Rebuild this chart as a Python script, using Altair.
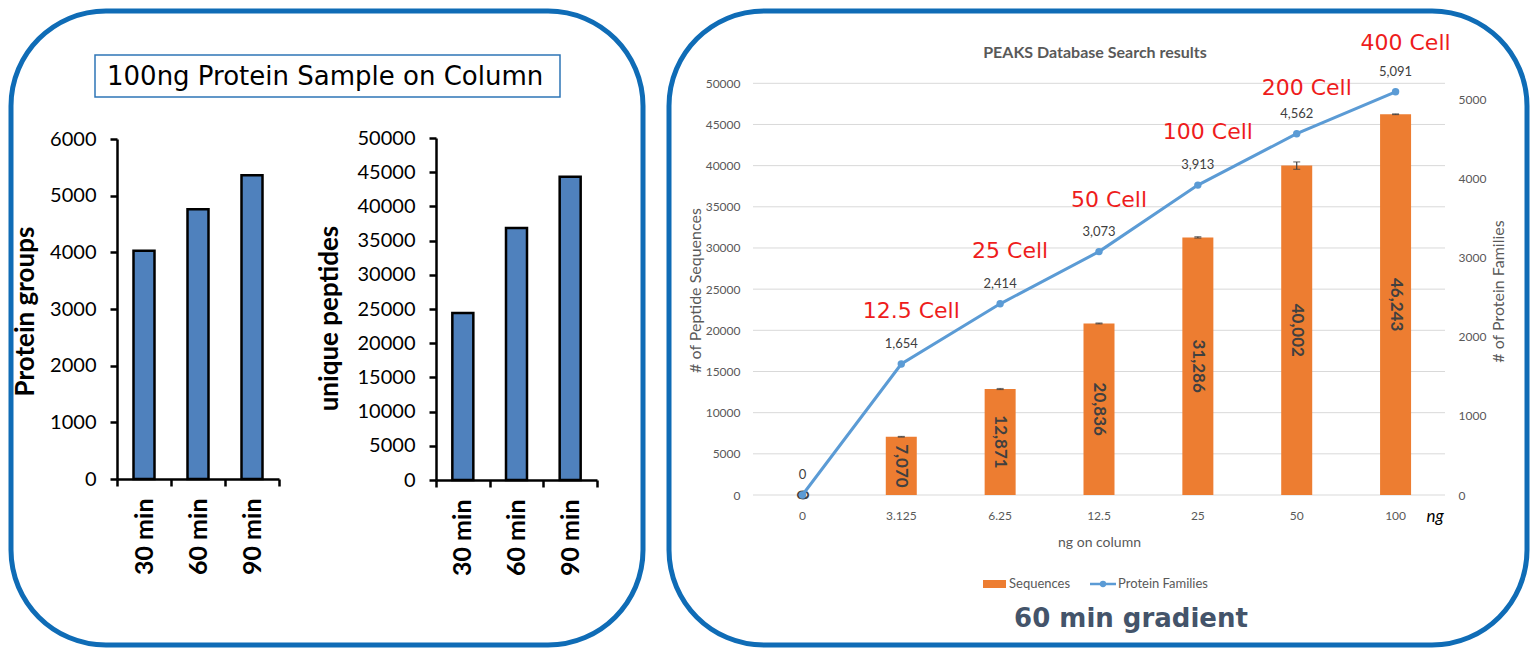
import altair as alt
import pandas as pd

# ---------------- data ----------------
run_time = ["30 min", "60 min", "90 min"]
protein_groups = [4030, 4760, 5360]
unique_peptides = [24400, 36850, 44350]
groups_ticks = [0, 1000, 2000, 3000, 4000, 5000, 6000]
peptide_ticks = [0, 5000, 10000, 15000, 20000, 25000, 30000, 35000, 40000, 45000, 50000]

ng_on_column = ["0", "3.125", "6.25", "12.5", "25", "50", "100"]
sequences = [0, 7070, 12871, 20836, 31286, 40002, 46243]
sequence_err = [0, 40, 60, 50, 80, 450, 40]
protein_families = [0, 1654, 2414, 3073, 3913, 4562, 5091]
cell_labels = ["", "12.5 Cell", "25 Cell", "50 Cell", "100 Cell", "200 Cell", "400 Cell"]
cell_label_level = [0, 2323, 3085, 3725, 4587, 5139, 5711]
sequence_ticks = peptide_ticks
family_ticks = [0, 1000, 2000, 3000, 4000, 5000]

W, H = 1522, 640
BOX = "#0f6cb6"
GRAY = "#595959"

one = alt.Data(values=[{"a": 1}])


def deco_rect(x1, x2, y1, y2, **kw):
    return alt.Chart(one).mark_rect(**kw).encode(
        x=alt.value(x1), x2=alt.value(x2), y=alt.value(y1), y2=alt.value(y2))


def deco_text(txt, x, y, **kw):
    return alt.Chart(one).mark_text(text=txt, baseline="middle", **kw).encode(
        x=alt.value(x), y=alt.value(y))


# ---------------- panel boxes ----------------
box_left = deco_rect(3, 635, 3, 637, fill="white", fillOpacity=0, stroke=BOX, strokeWidth=5,
                     cornerRadius=95)
box_right = deco_rect(661, 1519, 3, 637, fill="white", fillOpacity=0, stroke=BOX, strokeWidth=5,
                      cornerRadius=95)

# ---------------- left panel ----------------
BLACK_AXIS = dict(domainColor="black", domainWidth=2.5, tickColor="black", tickWidth=2.5,
                  tickSize=7, labelColor="black", labelFont="Lato", titleFont="Lato",
                  titleColor="black", grid=False, zindex=1)


def left_bar(df, xf, yf, x_rng, y_rng, dom, ticks, title, tx, ty):
    return alt.Chart(df).mark_bar(width=21, color="#4f81bd", stroke="black", strokeWidth=2.5).encode(
        x=alt.X(f"{xf}:N", sort=run_time,
                scale=alt.Scale(domain=run_time, range=x_rng, paddingInner=0, paddingOuter=0),
                axis=alt.Axis(orient="bottom", offset=y_rng[0] - H, title=None, labelAngle=270,
                              labelAlign="right", labelBaseline="middle", labelFontSize=25,
                              labelFontWeight="bold", labelPadding=12, tickBand="extent",
                              **BLACK_AXIS)),
        y=alt.Y(f"{yf}:Q", scale=alt.Scale(domain=dom, range=y_rng, nice=False),
                axis=alt.Axis(orient="left", offset=-x_rng[0], values=ticks, format="d",
                              title=title, titleFontSize=26, titleFontWeight="bold",
                              titleAngle=270, titleX=tx, titleY=ty, titleAlign="center",
                              titleBaseline="middle", labelFontSize=20, labelPadding=14,
                              **BLACK_AXIS)),
    )


df1 = pd.DataFrame({"run": run_time, "groups": protein_groups})
df2 = pd.DataFrame({"run2": run_time, "peptides": unique_peptides})

bar1 = left_bar(df1, "run", "groups", [109, 271], [471, 131], [0, 6000], groups_ticks,
                "Protein groups", -92, 303)
bar2 = left_bar(df2, "run2", "peptides", [428, 589], [472, 130], [0, 50000], peptide_ticks,
                "unique peptides", -107, 310)

title_box = deco_rect(87, 552, 47, 89, fill="white", fillOpacity=0, stroke="#2e75b6",
                      strokeWidth=1.5)
title_txt = deco_text("100ng Protein Sample on Column", 99, 69, align="left",
                      font="DejaVu Sans", fontSize=26, color="black")

# ---------------- right panel ----------------
df_r = pd.DataFrame({"ng": ng_on_column, "seq": sequences, "err": sequence_err,
                     "fam": protein_families, "cell": cell_labels, "cell_y": cell_label_level})
base = alt.Chart(df_r)

X0, X1 = 745, 1437
x_scale = alt.Scale(domain=ng_on_column, range=[X0, X1], paddingInner=0, paddingOuter=0)
x_axis = alt.Axis(orient="bottom", offset=487 - H, title="ng on column", domain=False,
                  ticks=False, tickSize=0, labelFont="Lato", labelFontSize=12,
                  labelColor=GRAY, labelPadding=15, labelAngle=0, titleFont="Lato",
                  titleFontSize=14, titleFontWeight="normal", titleColor=GRAY,
                  titleX=(X0 + X1) / 2, titleY=47, titleAlign="center", titleBaseline="middle",
                  grid=False, zindex=1)


def x_enc(axis=None):
    return alt.X("ng:N", sort=ng_on_column, scale=x_scale, axis=axis)


def y_seq(field, axis=None):
    return alt.Y(field, type="quantitative",
                 scale=alt.Scale(domain=[0, 50000], range=[487, 75.3], nice=False), axis=axis)


def y_fam(field, axis=None):
    return alt.Y(field, type="quantitative",
                 scale=alt.Scale(domain=[0, 5000], range=[487, 91], nice=False), axis=axis)


seq_axis = alt.Axis(orient="left", offset=-X0, values=sequence_ticks, format="d", domain=False,
                    ticks=False, tickSize=0, grid=False, labelFont="Lato", labelFontSize=12,
                    labelColor=GRAY, labelPadding=13, title="# of Peptide Sequences",
                    titleFont="Lato", titleFontSize=16, titleFontWeight="normal",
                    titleColor=GRAY, titleAngle=270, titleX=-58, titleY=282,
                    titleAlign="center", titleBaseline="middle", zindex=1)
fam_axis = alt.Axis(orient="right", offset=X1 - W, values=family_ticks, format="d", domain=False,
                    ticks=False, tickSize=0, grid=False, labelFont="Lato", labelFontSize=12,
                    labelColor=GRAY, labelPadding=13, title="# of Protein Families",
                    titleFont="Lato", titleFontSize=16, titleFontWeight="normal",
                    titleColor=GRAY, titleAngle=270, titleX=53, titleY=283,
                    titleAlign="center", titleBaseline="middle", zindex=1)

grid = alt.Chart(pd.DataFrame({"g": sequence_ticks})).mark_rule(
    color="#d9d9d9", strokeWidth=1).encode(y=y_seq("g"), x=alt.value(X0), x2=alt.value(X1))

bars = base.mark_bar(width=31, color="#ed7d31").encode(x=x_enc(x_axis), y=y_seq("seq", seq_axis))

err_base = base.transform_filter("datum.err > 0").transform_calculate(
    lo="datum.seq - datum.err", hi="datum.seq + datum.err")
err_rule = err_base.mark_rule(color="#404040", strokeWidth=1.2).encode(
    x=x_enc(), y=y_seq("lo"), y2=alt.Y2("hi"))
err_lo = err_base.mark_tick(color="#404040", thickness=1.2, size=7).encode(x=x_enc(), y=y_seq("lo"))
err_hi = err_base.mark_tick(color="#404040", thickness=1.2, size=7).encode(x=x_enc(), y=y_seq("hi"))

bar_lbl = base.transform_calculate(half="datum.seq / 2").mark_text(
    angle=90, font="Lato", fontSize=17, fontWeight="bold", color="#404040",
    align="center", baseline="middle").encode(
    x=x_enc(), y=y_seq("half"), text=alt.Text("seq:Q", format=","))

line = base.mark_line(color="#5b9bd5", strokeWidth=3,
                      point=alt.OverlayMarkDef(filled=True, size=55, color="#5b9bd5")).encode(
    x=x_enc(), y=y_fam("fam", fam_axis))

line_lbl = base.mark_text(dy=-20, font="Lato", fontSize=13, color="#404040").encode(
    x=x_enc(), y=y_fam("fam"), text=alt.Text("fam:Q", format=","))

cells = base.transform_filter("datum.cell != ''").mark_text(
    dx=10, font="DejaVu Sans", fontSize=22, color="#ee1c1c", baseline="middle").encode(
    x=x_enc(), y=y_fam("cell_y"), text="cell:N")

r_title = deco_text("PEAKS Database Search results", 1087, 45, font="Lato", fontSize=16,
                    fontWeight="bold", color=GRAY, align="center")
ng_unit = deco_text("ng", 1427, 509, font="Lato", fontSize=17, fontStyle="italic",
                    color="black", align="center")
leg_rect = deco_rect(975, 998, 572, 580, color="#ed7d31")
leg_t1 = deco_text("Sequences", 1001, 576, font="Lato", fontSize=13, color=GRAY, align="left")
leg_rule = alt.Chart(one).mark_rule(color="#5b9bd5", strokeWidth=2.5).encode(
    x=alt.value(1082), x2=alt.value(1108), y=alt.value(576))
leg_pt = alt.Chart(one).mark_circle(color="#5b9bd5", size=40, opacity=1).encode(
    x=alt.value(1095), y=alt.value(576))
leg_t2 = deco_text("Protein Families", 1110, 576, font="Lato", fontSize=13, color=GRAY,
                   align="left")
caption = deco_text("60 min gradient", 1123, 611, font="DejaVu Sans", fontSize=26,
                    fontWeight="bold", color="#44546a", align="center")

chart = alt.layer(
    box_left, box_right,
    title_box, title_txt, bar1, bar2,
    grid, bars, err_rule, err_lo, err_hi, bar_lbl, line, line_lbl, cells,
    r_title, ng_unit, leg_rect, leg_t1, leg_rule, leg_pt, leg_t2, caption,
).resolve_scale(x="independent", y="independent").properties(
    width=W, height=H, padding=0, autosize=alt.AutoSizeParams(type="none")
).configure(font="Lato").configure_view(strokeWidth=0, stroke=None)

chart.save("out.html", embed_options={"renderer": "svg", "actions": False})
